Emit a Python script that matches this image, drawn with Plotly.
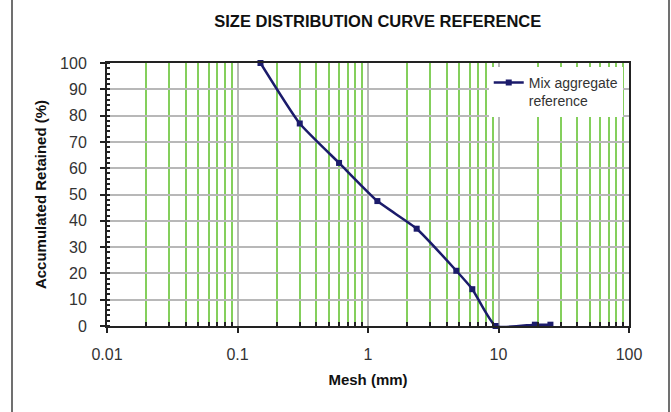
import plotly.graph_objects as go

# Sieve sizes (mm) and accumulated retained percentage
mesh_mm = [0.15, 0.3, 0.6, 1.18, 2.36, 4.75, 6.3, 9.5, 19, 25]
retained_pct = [100, 77, 62, 47.5, 37, 21, 14, 0, 0.5, 0.5]

x_tick_vals = [0.01, 0.1, 1, 10, 100]
x_tick_text = ["0.01", "0.1", "1", "10", "100"]
y_tick_vals = [0, 10, 20, 30, 40, 50, 60, 70, 80, 90, 100]

# Intermediate log-cycle lines (2..9 within each decade)
x_minor_vals = [d * m for d in [0.01, 0.1, 1, 10] for m in range(2, 10)]

NAVY = "#1b1b6b"
GREEN = "#84cf5c"
GRID = "#b8b8b8"
FONT = "Liberation Sans, Arial, sans-serif"

fig = go.Figure()
fig.add_trace(go.Scatter(
    x=mesh_mm, y=retained_pct,
    mode="lines+markers",
    name="Mix aggregate<br>reference",
    line=dict(color=NAVY, width=2.5, shape="spline", smoothing=0.5),
    marker=dict(symbol="square", size=6, color=NAVY),
    cliponaxis=False,
))

fig.update_layout(
    width=671, height=412,
    margin=dict(l=107, r=42, t=63, b=86),
    paper_bgcolor="white", plot_bgcolor="white",
    font=dict(family=FONT, color="#333333", size=15),
    title=dict(text="<b>SIZE DISTRIBUTION CURVE REFERENCE</b>",
               x=0.563, xanchor="center", y=0.948, yanchor="middle",
               font=dict(size=16.5, color="#111111")),
    showlegend=True,
    legend=dict(x=0.988, xanchor="right", y=0.985, yanchor="top",
                bgcolor="white", borderwidth=0, valign="top",
                font=dict(size=14, color="#333333"),
                tracegroupgap=0, itemwidth=30),
)

fig.update_xaxes(
    type="log", range=[-2, 2],
    tickvals=x_tick_vals, ticktext=x_tick_text,
    ticks="outside", ticklen=5, tickcolor="#222222", tickwidth=1.5,
    ticklabelstandoff=8,
    showline=True, linecolor="#222222", linewidth=2, mirror=True,
    showgrid=True, gridcolor=GRID, gridwidth=2,
    zeroline=False,
    minor=dict(tickmode="array", tickvals=x_minor_vals,
               showgrid=True, gridcolor=GREEN, gridwidth=2,
               ticks="inside", ticklen=4, tickcolor="#222222"),
    tickfont=dict(size=16, color="#333333"),
    title=dict(text="<b>Mesh (mm)</b>", standoff=12,
               font=dict(size=15, color="#111111")),
)

fig.update_yaxes(
    range=[0, 100], tickvals=y_tick_vals,
    ticks="outside", ticklen=5, tickcolor="#222222", tickwidth=1.5,
    ticklabelstandoff=10,
    showline=True, linecolor="#222222", linewidth=2, mirror=True,
    showgrid=True, gridcolor=GRID, gridwidth=1.5,
    zeroline=False,
    minor=dict(dtick=2, ticks="inside", ticklen=3, tickcolor="#222222",
               showgrid=False),
    tickfont=dict(size=16, color="#333333"),
    title=dict(text="<b>Accumulated Retained (%)</b>", standoff=10,
               font=dict(size=15, color="#111111")),
)

# Outer frame lines at the left and right edges of the chart
for xp in [(12 - 107) / 522, (669 - 107) / 522]:
    fig.add_shape(type="line", xref="paper", yref="paper",
                  x0=xp, x1=xp, y0=-0.4, y1=1.3,
                  line=dict(color="#707070", width=2))

fig.write_html("out.html")
